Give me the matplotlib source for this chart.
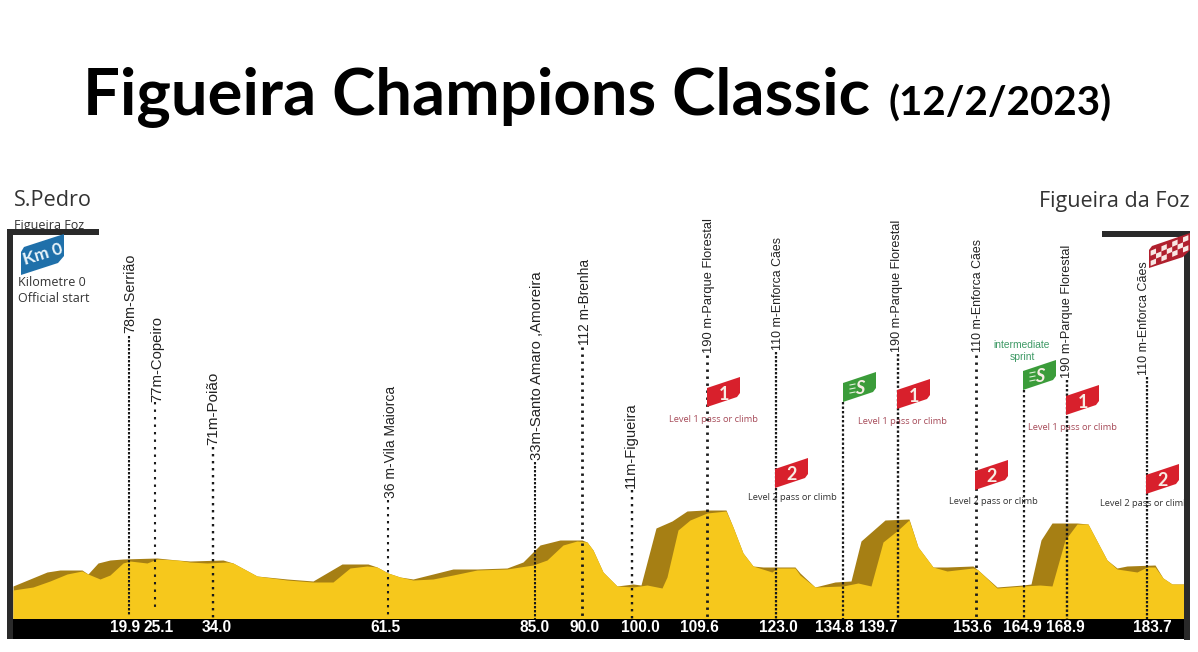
import matplotlib
matplotlib.use("Agg")
import matplotlib.pyplot as plt
from matplotlib.patches import Polygon, Rectangle

TITLE = "Figueira Champions Classic"
DATE = "(12/2/2023)"

front_x = [13,33,50,67,82,88,100,110,123,130,147,157,177,190,207,227,233,257,287,313,333,350,367,377,388,400,413,433,453,477,507,533,547,563,577,587,593,603,617,633,647,662,667,678,690,707,726,733,743,753,772,777,795,800,815,843,858,871,883,898,909,918,933,947,973,978,997,1023,1040,1052,1065,1077,1088,1107,1117,1137,1147,1155,1163,1172,1186]
front_y = [590,587,581,574,571,574,579,575,563,561,563,559,560,562,563,562,563,576,580,582,582,568,566,567,573,577,580,579,575,570,569,565,560,545,541,542,550,572,586,587,585,588,577,530,520,513,511,527,553,566,572,568,568,575,587,586,583,586,542,530,520,547,567,571,568,570,588,586,585,586,540,524,524,560,569,572,567,567,578,584,584]
shade_x = [13,47,60,82,88,98,110,123,157,177,190,223,233,257,287,313,342,368,377,388,400,413,453,477,507,523,540,560,582,587,593,603,617,633,641,656,672,687,705,726,733,743,753,763,795,800,815,835,851,861,885,909,918,933,947,973,978,997,1023,1031,1041,1052,1077,1088,1107,1117,1127,1155,1163,1172,1186]
shade_y = [586,572,570,570,574,563,560,559,558,560,561,560,563,576,579,581,564,564,567,573,577,579,569,569,568,562,545,540,540,542,550,572,586,584,585,528,521,511,510,510,527,553,566,567,567,573,587,582,581,541,520,519,547,567,567,566,570,587,585,584,540,523,523,524,560,568,566,565,578,584,584]

km_labels = ["19.9","25.1","34.0","61.5","85.0","90.0","100.0","109.6","123.0","134.8","139.7","153.6","164.9","168.9","183.7"]
km_label_x = [125,159,217,385,535,585,640,699,778,834,878,972,1022,1065,1152]

stem_x = [129,155,213,388,535,582,632,707,776,843,898,976,1024,1067,1147]
stem_top = [336,402,447,500,462,347,490,355,352,402,354,355,390,380,377]
stem_bot = [615,610,619,616,619,619,619,619,619,619,619,619,619,619,619]
stem_lw = [1.5,1.5,1.7,1.5,1.5,2.0,1.7,2.0,1.6,1.6,1.7,2.0,1.6,1.7,1.6]
stem_period = [4,7.5,7,7,4,7,7,7,4,4.5,4.5,7,5,4.5,4]

place_names = ["78m-Serrião","77m-Copeiro","71m-Poião","36 m-Vila Maiorca","33m-Santo Amaro ,Amoreira","112 m-Brenha","11m-Figueira","190 m-Parque Florestal","110 m-Enforca Cães","190 m-Parque Florestal","110 m-Enforca Cães","190 m-Parque Florestal","110 m-Enforca Cães"]
place_x = [130,157,213,391,537,585,631,709,778,897,978,1067,1144]
place_bot = [333,402,445,498,460,345,488,353,350,352,352,378,375]
place_size = [10.4,10.7,11,10,10.7,9.9,10.5,9.3,8.9,9.1,8.9,9.2,9]

flag_kind = ["1","2","S","1","2","S","1","2"]
flag_x = [707,775,843,897,975,1023,1066,1146]
flag_y = [407,488,402,409,490,390,415,494]
flag_dx = [0,0,33,33,30,0]
flag_dy = [0,-19,-30,-14,-10,0]

level_text = ["Level 1 pass or climb","Level 2 pass or climb","Level 1 pass or climb","Level 2 pass or climb","Level 1 pass or climb","Level 2 pass or climb"]
level_x = [713,792,902,993,1072,1144]
level_y = [419,498,421,501,427,503]
level_col = ["#a64a58","#333333","#a64a58","#333333","#a64a58","#333333"]

km0_x = [21,21,24,64,64,58,21]
km0_y = [275,252,247,234,256,263,275]
finish_x = [1149,1149,1152,1190,1190,1183,1149]
finish_y = [268,250,246,233,250,257,268]

YELLOW, BROWN, RED, GREEN, BLUE, DARK = "#f6c81c", "#a67f14", "#d8202c", "#3b9c3a", "#1f70aa", "#2a2a2a"
OPEN = ["Open Sans", "DejaVu Sans"]
ARIAL = ["Liberation Sans", "DejaVu Sans"]
LATO = ["Lato", "DejaVu Sans"]

fig = plt.figure(figsize=(11.98, 6.52), dpi=100, facecolor="white")
ax = fig.add_axes([0, 0, 1, 1])
ax.set_xlim(0, 1198); ax.set_ylim(652, 0); ax.axis("off")

ax.text(83, 115, TITLE, family=LATO, weight="bold", fontsize=47, color="black", va="baseline", ha="left")
ax.text(889, 116, DATE, family=LATO, weight="bold", fontsize=29, color="black", va="baseline", ha="left")
ax.text(14, 201, "S.Pedro", family=OPEN, fontsize=15.6, color="#333333", va="center")
ax.text(14, 225, "Figueira Foz", family=OPEN, fontsize=9, color="#333333", va="center")
ax.text(1190, 202, "Figueira da Foz", family=OPEN, fontsize=15.5, color="#333333", va="center", ha="right")
ax.text(18, 282, "Kilometre 0", family=OPEN, fontsize=9, color="#333333", va="center")
ax.text(18, 298, "Official start", family=OPEN, fontsize=9, color="#333333", va="center")

ax.fill_between(shade_x, shade_y, 620, color=BROWN, lw=0, zorder=2)
ax.fill_between(front_x, front_y, 620, color=YELLOW, lw=0, zorder=3)
ax.add_patch(Rectangle((7, 619), 1179, 20, color="black", lw=0, zorder=4))

for t, x, y, c in zip(level_text, level_x, level_y, level_col):
    ax.text(x, y, t, family=OPEN, fontsize=6.7, color=c, ha="center", va="center", zorder=4.5)

for name, (x0, y0, w, h) in {"l": (7,229,6,410), "lt": (7,229,92,6), "r": (1184,231,6,409), "rt": (1102,231,88,6)}.items():
    ax.add_patch(Rectangle((x0, y0), w, h, color=DARK, lw=0, zorder=5))

for x, t, b, lw, p in zip(stem_x, stem_top, stem_bot, stem_lw, stem_period):
    lw_px = lw * 100 / 72
    ax.plot([x, x], [t, b], color="#1a1a1a", lw=lw, ls=(0, (2.4 / lw_px, (p - 2.4) / lw_px)), dash_capstyle="butt", zorder=6)

for name, x, b, s in zip(place_names, place_x, place_bot, place_size):
    ax.text(x, b, name, family=ARIAL, fontsize=s, rotation=90, ha="center", va="bottom", color="#222222", zorder=7)

for lab, x in zip(km_labels, km_label_x):
    ax.text(x, 628, lab, family=ARIAL, weight="bold", fontsize=11.2, color="white", ha="center", va="center", zorder=7)

for k, x, y in zip(flag_kind, flag_x, flag_y):
    c = GREEN if k == "S" else RED
    ax.add_patch(Polygon([(x + dx, y + dy) for dx, dy in zip(flag_dx, flag_dy)], closed=True, color=c, lw=0, zorder=8))
    ax.text(x + 17, y - 13, k, family=LATO, weight="bold", style="italic" if k == "S" else "normal", fontsize=13, color="#f7ece4",
            ha="center", va="center", zorder=9)
    if k == "S":
        for dy in (-17, -13, -9):
            ax.plot([x + 7, x + 12], [y + dy, y + dy - 1], color="#dff0d8", lw=0.8, zorder=9)

ax.text(1022, 345, "intermediate", family=ARIAL, fontsize=7.4, color="#3f9a66", ha="center", va="center")
ax.text(1022, 357, "sprint", family=ARIAL, fontsize=7.4, color="#3f9a66", ha="center", va="center")

ax.add_patch(Polygon(list(zip(km0_x, km0_y)), closed=True, color=BLUE, lw=0, zorder=8))
ax.text(43, 254, "Km 0", family=LATO, weight="bold", fontsize=12.5, color="#e8f4fa", ha="center", va="center", rotation=17, zorder=9)

ax.add_patch(Polygon(list(zip(finish_x, finish_y)), closed=True, color="#b0202e", lw=0, zorder=8))
n_cols, n_rows = 7, 3
for i in range(n_cols):
    for j in range(n_rows):
        if (i + j) % 2 == 0:
            u0, u1 = .04 + .92 * i / n_cols, .04 + .92 * (i + 1) / n_cols
            v0, v1 = .08 + .84 * j / n_rows, .08 + .84 * (j + 1) / n_rows
            pts = [(1149 + 41*u, 268 - 17*u - 18*v) for u, v in [(u0, v0), (u1, v0), (u1, v1), (u0, v1)]]
            ax.add_patch(Polygon(pts, closed=True, color="#f8e8e4", lw=0, zorder=9))

fig.savefig("out.png", dpi=100, facecolor="white")
